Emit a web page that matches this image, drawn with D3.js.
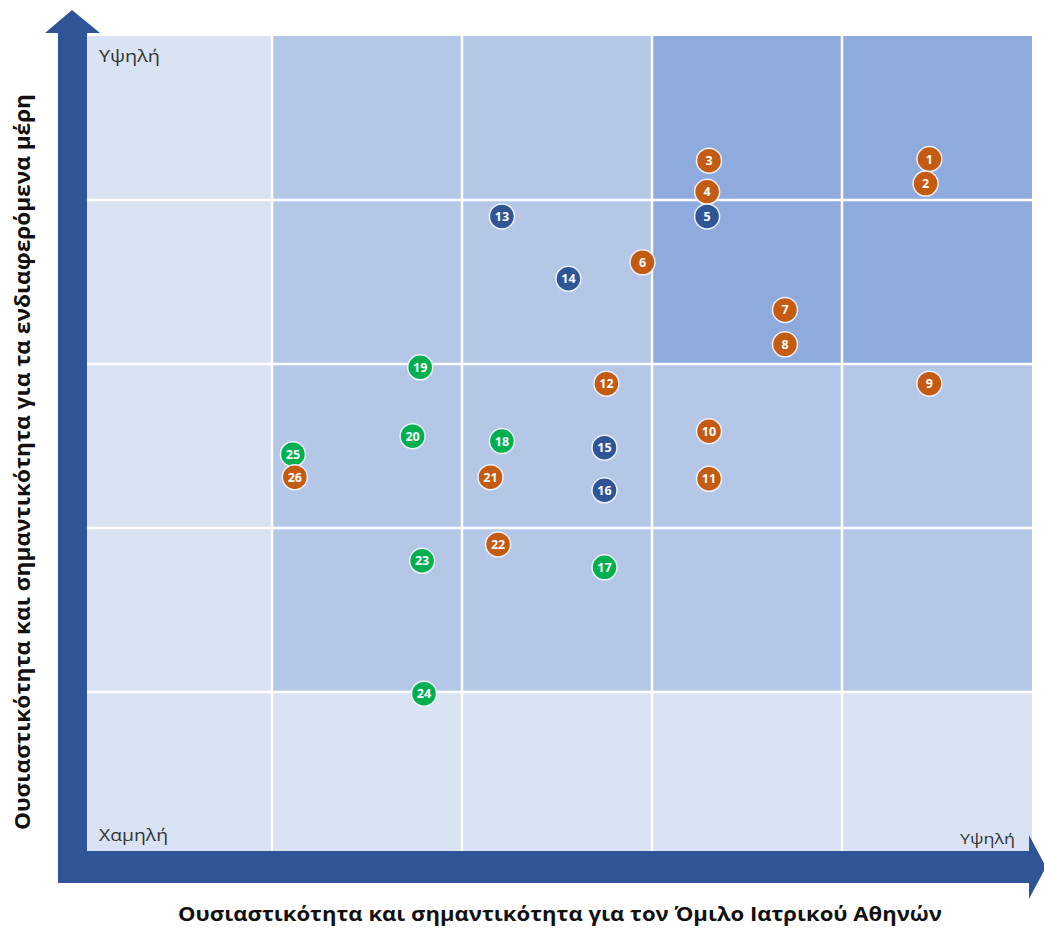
<!DOCTYPE html>
<html><head><meta charset="utf-8">
<script src="https://cdn.jsdelivr.net/npm/d3@7"></script>
<style>body{margin:0;background:#fff}svg{display:block}</style>
</head><body>
<script>
// Data
const ids      = [1,2,3,4,5,6,7,8,9,10,11,12,13,14,15,16,17,18,19,20,21,22,23,24,25,26];
const xValues  = [4.46,4.44,3.30,3.29,3.29,2.95,3.70,3.70,4.46,3.30,3.30,2.76,2.21,2.56,2.75,2.75,2.75,2.21,1.78,1.74,2.15,2.19,1.79,1.80,1.11,1.12];
const yValues  = [4.25,4.10,4.24,4.05,3.90,3.62,3.33,3.12,2.88,2.59,2.30,2.88,3.90,3.52,2.49,2.23,1.76,2.53,2.98,2.56,2.31,1.90,1.80,0.99,2.45,2.31];
const groups   = ["o","o","o","o","b","o","o","o","o","o","o","o","b","b","b","b","g","g","g","g","o","o","g","g","g","o"];
// shade level per cell, rows from top (high) to bottom (low), columns left to right
const cellLevels = [
  [0,1,1,2,2],
  [0,1,1,2,2],
  [0,1,1,1,1],
  [0,1,1,1,1],
  [0,0,0,0,0]
];
const levelLabels = {high:"Υψηλή", low:"Χαμηλή"};
const xTitle = "Ουσιαστικότητα και σημαντικότητα για τον Όμιλο Ιατρικού Αθηνών";
const yTitle = "Ουσιαστικότητα και σημαντικότητα για τα ενδιαφερόμενα μέρη";

const groupColor = {o:"#c55a11", b:"#2f5597", g:"#00b050"};
const shade = ["#dae3f3","#b4c7e7","#8faadc"];
const arrowColor = "#2f5597";
const FONT = "Open Sans, sans-serif";

const W=1044,H=930;
const svg=d3.select("body").append("svg").attr("width",W).attr("height",H);
const x=d3.scaleLinear().domain([0,5]).range([82,1032]);
const y=d3.scaleLinear().domain([0,5]).range([856,36]);

// cells
const cells=[];
cellLevels.forEach((row,r)=>row.forEach((lv,c)=>cells.push({r,c,lv})));
svg.append("g").selectAll("rect").data(cells).join("rect")
  .attr("x",d=>x(d.c)).attr("y",d=>y(5-d.r))
  .attr("width",x(1)-x(0)).attr("height",y(0)-y(1))
  .attr("fill",d=>shade[d.lv]);
// grid lines
const g=svg.append("g").attr("stroke","#ffffff").attr("stroke-width",2.5);
[1,2,3,4].forEach(v=>{
  g.append("line").attr("x1",x(v)).attr("x2",x(v)).attr("y1",y(5)).attr("y2",y(0));
  g.append("line").attr("x1",x(0)).attr("x2",x(5)).attr("y1",y(v)).attr("y2",y(v));
});

// level labels
function lbl(tx,ty,t,size,len,anchor){
  svg.append("text").attr("x",tx).attr("y",ty).text(t).attr("text-anchor",anchor||"start")
    .attr("font-family",FONT).attr("font-size",size).attr("fill","#333")
    .attr("textLength",len).attr("lengthAdjust","spacingAndGlyphs");
}
lbl(99,62,levelLabels.high,16.5,61);
lbl(99,841,levelLabels.low,16.5,69);
lbl(1015,844,levelLabels.high,14,55,"end");

// arrows
svg.append("rect").attr("x",58).attr("y",30).attr("width",29).attr("height",853).attr("fill",arrowColor);
svg.append("polygon").attr("points","45,33 72,10 100,33").attr("fill",arrowColor);
svg.append("rect").attr("x",58).attr("y",851).attr("width",973).attr("height",32).attr("fill",arrowColor);
svg.append("polygon").attr("points","1029,835 1046,867 1029,899").attr("fill",arrowColor);

// points
const pts=ids.map((id,i)=>({id,xv:xValues[i],yv:yValues[i],grp:groups[i]}));
const pg=svg.append("g").selectAll("g").data(pts).join("g")
  .attr("transform",d=>`translate(${x(d.xv)},${y(d.yv)})`);
pg.append("circle").attr("r",12.5).attr("fill",d=>groupColor[d.grp])
  .attr("stroke","#eef2fa").attr("stroke-width",1.5);
pg.append("text").text(d=>d.id).attr("text-anchor","middle").attr("dy","0.36em")
  .attr("font-family",FONT).attr("font-weight","bold").attr("font-size",12.5)
  .attr("fill","#fff");

// titles
svg.append("text").attr("x",560).attr("y",921).attr("text-anchor","middle").text(xTitle)
  .attr("font-family",FONT).attr("font-weight","bold").attr("font-size",20).attr("fill","#111")
  .attr("textLength",764).attr("lengthAdjust","spacingAndGlyphs");
svg.append("text").attr("transform","translate(30,462) rotate(-90)").attr("text-anchor","middle").text(yTitle)
  .attr("font-family",FONT).attr("font-weight","bold").attr("font-size",21).attr("fill","#111")
  .attr("textLength",736).attr("lengthAdjust","spacingAndGlyphs");
</script>
</body></html>
